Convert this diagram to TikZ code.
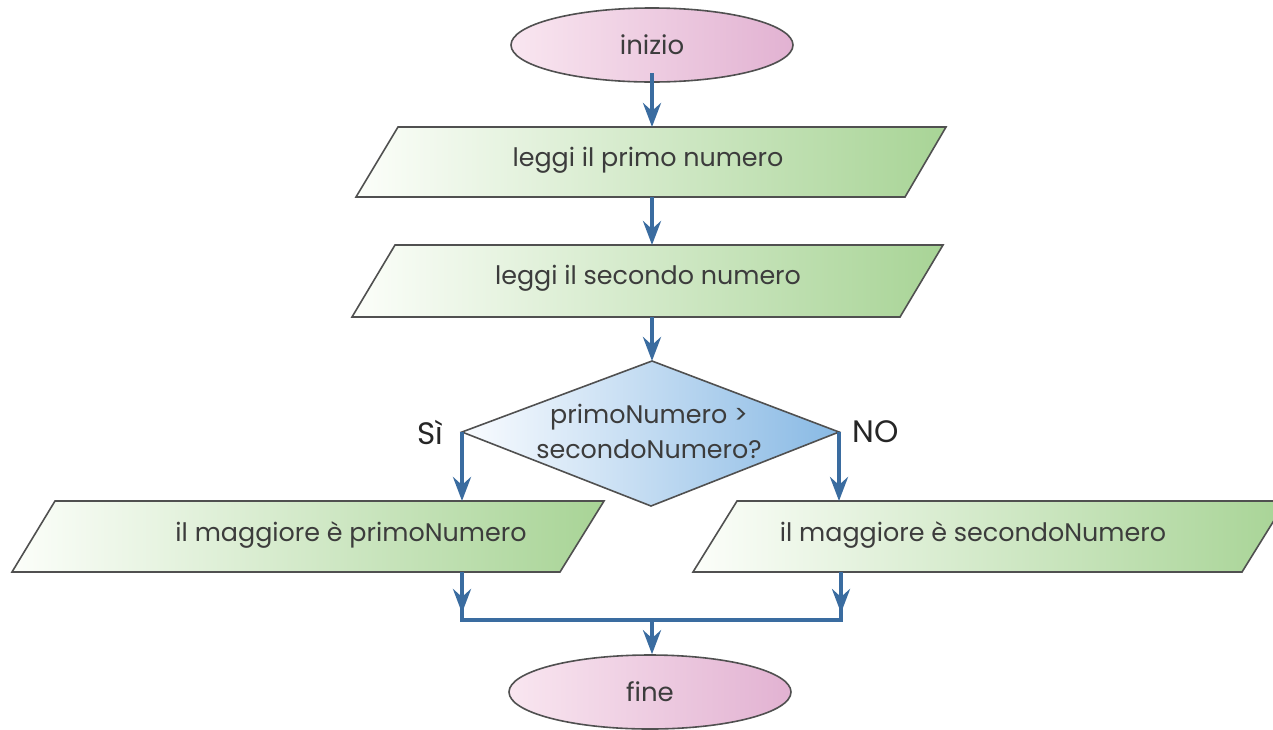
\documentclass[tikz,border=0pt]{standalone}
\usepackage{fontspec}
\setmainfont{Poppins}
\usetikzlibrary{shapes.geometric,arrows.meta}
\definecolor{flow}{RGB}{58,108,160}
\definecolor{edge}{RGB}{80,80,80}
\definecolor{txt}{RGB}{60,60,60}
\definecolor{pinkL}{RGB}{249,230,240}
\definecolor{pinkR}{RGB}{226,178,210}
\definecolor{greenL}{RGB}{252,254,250}
\definecolor{greenR}{RGB}{168,212,150}
\definecolor{blueL}{RGB}{250,252,255}
\definecolor{blueR}{RGB}{136,185,228}
\begin{document}
\begin{tikzpicture}[x=0.5pt,y=-0.5pt,
  term/.style={ellipse, draw=edge, line width=0.8pt, left color=pinkL, right color=pinkR,
    minimum width=141pt, minimum height=37pt, inner sep=0pt,
    font=\fontsize{13}{15}\selectfont, text=txt},
  io/.style={draw=edge, line width=0.8pt, left color=greenL, right color=greenR},
  dec/.style={draw=edge, line width=0.8pt, left color=blueL, right color=blueR},
  lbl/.style={font=\fontsize{12.7}{17.5}\selectfont, text=txt, inner sep=0pt},
  side/.style={font=\fontsize{15.5}{17}\selectfont, text=black!85, inner sep=0pt},
  arr/.style={draw=flow, line width=2pt, -{Stealth[length=12pt,width=9pt,inset=4pt]}},
  flowline/.style={draw=flow, line width=2pt},
]
\useasboundingbox (0,0) rectangle (1273,729);

% terminals
\node[term] (inizio) at (652,45) {inizio};
\node[term] (fine) at (650,692) {fine};

% input / output parallelograms
\path[io] (398,127) -- (946,127) -- (905,197) -- (356,197) -- cycle;
\node[lbl] (t1) at (648,160) {leggi il primo numero};
\path[io] (395,245) -- (943,245) -- (900,317) -- (352,317) -- cycle;
\node[lbl] (t2) at (648,278) {leggi il secondo numero};
\path[io] (55,501) -- (604,501) -- (560,572) -- (12,572) -- cycle;
\node[lbl] (t3) at (351,535) {il maggiore è primoNumero};
\path[io] (737,501) -- (1286,501) -- (1242,572) -- (693,572) -- cycle;
\node[lbl] (t4) at (973,535) {il maggiore è secondoNumero};

% decision
\path[dec] (652,361) -- (839,432) -- (651,506) -- (462,432) -- cycle;
\node[lbl, align=center] (q) at (649,431) {primoNumero >\\secondoNumero?};
\node[side] (si) at (430,432) {Sì};
\node[side] (no) at (876,432) {NO};

% connector coordinates
\coordinate (ist) at (652,73);
\coordinate (p1t) at (652,127);
\coordinate (p1b) at (652,197);
\coordinate (p2t) at (652,245);
\coordinate (p2b) at (652,317);
\coordinate (dtop) at (652,361);
\coordinate (dleft) at (462,432);
\coordinate (dright) at (839,432);
\coordinate (p3t) at (462,501);
\coordinate (p4t) at (839,501);
\coordinate (p3b) at (462,572);
\coordinate (p4b) at (841,572);
\coordinate (m3) at (462,613);
\coordinate (m4) at (841,613);
\coordinate (jl) at (462,620);
\coordinate (jr) at (841,620);
\coordinate (jm) at (652,620);

% connectors
\draw[arr] (ist) -- (p1t);
\draw[arr] (p1b) -- (p2t);
\draw[arr] (p2b) -- (dtop);
\draw[arr] (dleft) -- (p3t);
\draw[arr] (dright) -- (p4t);
\draw[flowline] (p3b) -- (jl) -- (jr) -- (p4b);
\draw[arr] (p3b) -- (m3);
\draw[arr] (p4b) -- (m4);
\draw[arr] (jm) -- (jm |- fine.north);
\end{tikzpicture}
\end{document}
